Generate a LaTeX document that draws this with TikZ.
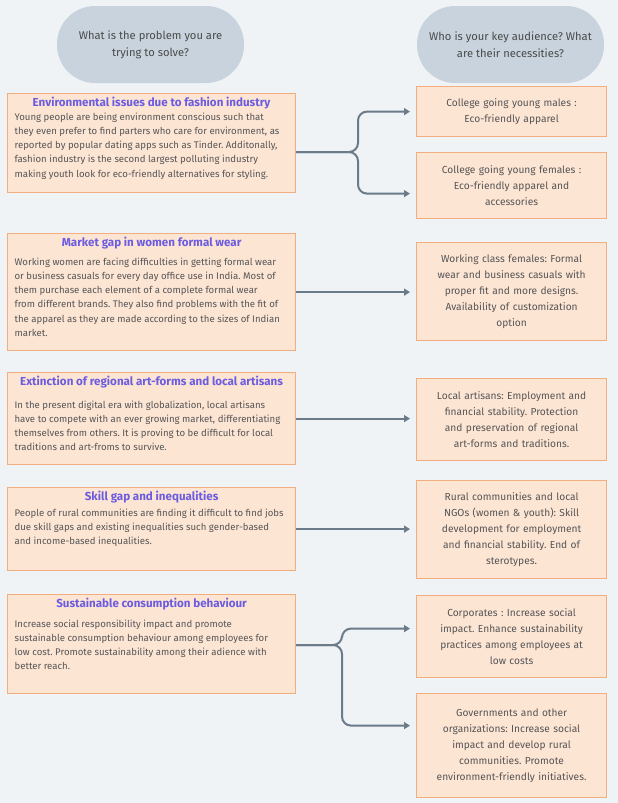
\documentclass[tikz,border=0pt]{standalone}
\usepackage{fontspec}
\setmainfont{Fira Sans}
\frenchspacing
\usetikzlibrary{arrows.meta}
\definecolor{bg}{HTML}{EFF3F6}
\definecolor{pill}{HTML}{C8D3DD}
\definecolor{headtxt}{HTML}{4A4A4A}
\definecolor{boxfill}{HTML}{FDE5D4}
\definecolor{boxline}{HTML}{F2AE7E}
\definecolor{linkcol}{HTML}{6B7B89}
\definecolor{titlecol}{HTML}{6C5CE0}
\definecolor{txt}{HTML}{555555}
% problem box text: height, gap below title, title, body
\newcommand{\probtext}[4]{\parbox[c][#1][t]{274pt}{\vspace*{3pt}%
{\centering\color{titlecol}\fontsize{11.6}{13}\selectfont\bfseries #3\par}%
\vspace{#2}\raggedright\fontsize{9.6}{14.2}\selectfont #4\par}}

\begin{document}
\begin{tikzpicture}[
		x=1pt, y=-1pt,
		head/.style={fill=pill, rounded corners=38pt, minimum width=187pt, minimum height=77pt, align=center, text=headtxt, font=\fontsize{11.2}{17}\selectfont},
		prob/.style={draw=boxline, fill=boxfill, line width=1.2pt, inner xsep=7pt, inner ysep=0pt, anchor=north west, text=txt},
		need/.style={draw=boxline, fill=boxfill, line width=1.2pt, anchor=north west, minimum width=190pt, text width=180pt, inner xsep=5pt, align=center, text=txt, font=\fontsize{10.2}{16}\selectfont},
		link/.style={draw=linkcol, line width=2pt, rounded corners=9pt, -{Triangle[length=6pt,width=7pt]}, shorten >=6pt}
		]
		\fill[bg] (0,0) rectangle (618,803);

		% Questions
		\node[head] (qprob) at (150.5,44.5) {What is the problem you are\\trying to solve?};
		\node[head] (qaud) at (510.5,44.5) {Who is your key audience? What\\are their necessities?};

		% Problems
		\node[prob] (p1) at (7,93) {\probtext{99pt}{0pt}{Environmental issues due to fashion industry}{Young people are being environment conscious such that\\they even prefer to find parters who care for environment, as\\reported by popular dating apps such as Tinder. Additonally,\\fashion industry is the second largest polluting industry\\making youth look for eco-friendly alternatives for styling.}};
		\node[prob] (p2) at (7,233) {\probtext{117pt}{5pt}{Market gap in women formal wear}{Working women are facing difficulties in getting formal wear\\or business casuals for every day office use in India. Most of\\them purchase each element of a complete formal wear\\from different brands. They also find problems with the fit of\\the apparel as they are made according to the sizes of Indian\\market.}};
		\node[prob] (p3) at (7,372) {\probtext{92pt}{9pt}{Extinction of regional art-forms and local artisans}{In the present digital era with globalization, local artisans\\have to compete with an ever growing market, differentiating\\themselves from others. It is proving to be difficult for local\\traditions and art-froms to survive.}};
		\node[prob] (p4) at (7,487) {\probtext{83pt}{2pt}{Skill gap and inequalities}{People of rural communities are finding it difficult to find jobs\\due skill gaps and existing inequalities such gender-based\\and income-based inequalities.}};
		\node[prob] (p5) at (7,594) {\probtext{99pt}{6pt}{Sustainable consumption behaviour}{Increase social responsibility impact and promote\\sustainable consumption behaviour among employees for\\low cost. Promote sustainability among their adience with\\better reach.}};

		% Audiences
		\node[need, minimum height=50pt] (n1a) at (416,86) {College going young males :\\Eco-friendly apparel};
		\node[need, minimum height=66pt] (n1b) at (416,152) {College going young females :\\Eco-friendly apparel and\\accessories};
		\node[need, minimum height=98pt] (n2) at (416,242) {Working class females: Formal\\wear and business casuals with\\proper fit and more designs.\\Availability of customization\\option};
		\node[need, minimum height=82pt] (n3) at (416,378) {Local artisans: Employment and\\financial stability. Protection\\and preservation of regional\\art-forms and traditions.};
		\node[need, minimum height=98pt] (n4) at (416,480) {Rural communities and local\\NGOs (women \& youth): Skill\\development for employment\\and financial stability. End of\\sterotypes.};
		\node[need, minimum height=82pt] (n5a) at (416,595) {Corporates : Increase social\\impact. Enhance sustainability\\practices among employees at\\low costs};
		\node[need, minimum height=104pt] (n5b) at (416,693) {Governments and other\\organizations: Increase social\\impact and develop rural\\communities. Promote\\environment-friendly initiatives.};

		% Links
		\coordinate (j1) at (358,152);
		\coordinate (j5) at (342,645);
		\draw[link] (p1.east |- j1) -- (j1) |- (n1a.west);
		\draw[link] (p1.east |- j1) -- (j1) |- ([yshift=-8pt]n1b.west);
		\draw[link] (p2.east) -- (n2.west |- p2.east);
		\draw[link] (p3.east) -- (n3.west |- p3.east);
		\draw[link] (p4.east) -- (n4.west |- p4.east);
		\draw[link] (p5.east |- j5) -- (j5) |- ([yshift=8pt]n5a.west);
		\draw[link] (p5.east |- j5) -- (j5) |- ([yshift=20pt]n5b.west);

	\end{tikzpicture}
\end{document}
